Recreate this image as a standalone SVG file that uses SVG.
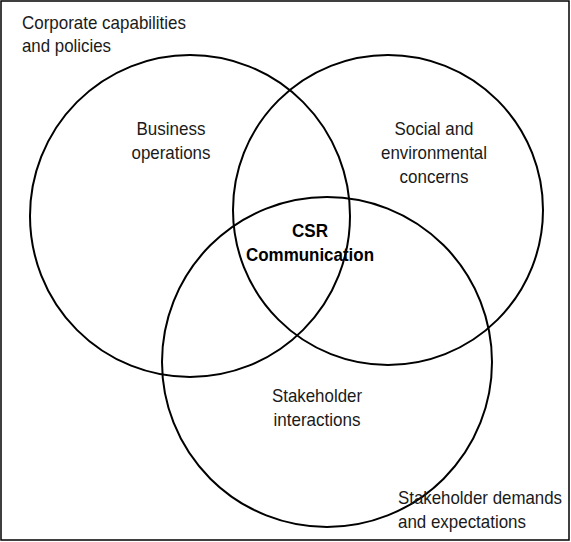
<svg xmlns="http://www.w3.org/2000/svg" width="571" height="542" viewBox="0 0 571 542">
<style>
.c{fill:none;stroke:#000;stroke-width:2}
.t{font-family:"Liberation Sans",Arial,sans-serif;font-size:18.5px;fill:#1a1a1a}
.m{text-anchor:middle}
.b{font-weight:bold;fill:#000}
</style>
<rect width="571" height="542" fill="#fff"/>
<rect x="1" y="1" width="568" height="539" fill="none" stroke="#000" stroke-width="1.5"/>
<g id="corporate">
<text class="t" x="22" y="29" textLength="164" lengthAdjust="spacingAndGlyphs">Corporate capabilities</text>
<text class="t" x="22" y="52" textLength="89" lengthAdjust="spacingAndGlyphs">and policies</text>
</g>
<g id="business">
<ellipse class="c" cx="190" cy="216" rx="160" ry="161"/>
<text class="t m" x="171" y="135" textLength="69" lengthAdjust="spacingAndGlyphs">Business</text>
<text class="t m" x="171" y="159" textLength="79" lengthAdjust="spacingAndGlyphs">operations</text>
</g>
<g id="social">
<ellipse class="c" cx="388" cy="210" rx="155" ry="155"/>
<text class="t m" x="434" y="135" textLength="79" lengthAdjust="spacingAndGlyphs">Social and</text>
<text class="t m" x="434" y="159" textLength="106" lengthAdjust="spacingAndGlyphs">environmental</text>
<text class="t m" x="434" y="183" textLength="69" lengthAdjust="spacingAndGlyphs">concerns</text>
</g>
<g id="stakeholder">
<ellipse class="c" cx="327" cy="362" rx="165" ry="165"/>
<text class="t m" x="317" y="402" textLength="90" lengthAdjust="spacingAndGlyphs">Stakeholder</text>
<text class="t m" x="317" y="426" textLength="87" lengthAdjust="spacingAndGlyphs">interactions</text>
</g>
<g id="csr">
<text class="t m b" x="310" y="237" textLength="36" lengthAdjust="spacingAndGlyphs">CSR</text>
<text class="t m b" x="310" y="261" textLength="128" lengthAdjust="spacingAndGlyphs">Communication</text>
</g>
<g id="demands">
<text class="t" x="398" y="504" textLength="164" lengthAdjust="spacingAndGlyphs">Stakeholder demands</text>
<text class="t" x="398" y="528" textLength="128" lengthAdjust="spacingAndGlyphs">and expectations</text>
</g>
<g id="connectors"/>
</svg>
